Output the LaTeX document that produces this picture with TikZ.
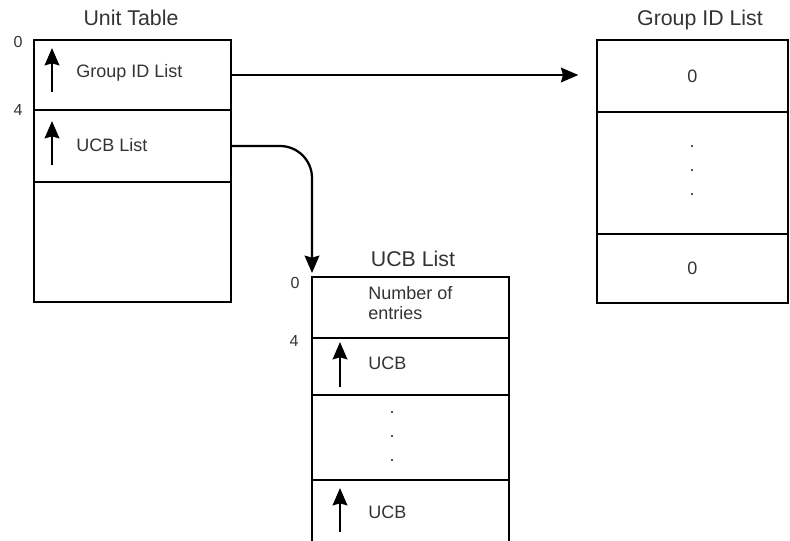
\documentclass[tikz,border=0pt]{standalone}
\usepackage{fontspec}
\setmainfont{Liberation Sans}
\usetikzlibrary{arrows.meta,positioning}

\begin{document}
\begin{tikzpicture}[x=0.75pt,y=-0.75pt,
    cell/.style={draw,line width=1.7pt,anchor=north west,inner sep=0pt,outer sep=0pt},
    ptr/.style={line width=1.7pt,-{Stealth[length=13pt,width=11pt,inset=1.5pt]}},
    lbl/.style={font=\fontsize{13.5}{15.5}\selectfont,text=black!80,inner sep=0pt},
    ttl/.style={font=\fontsize{16}{18}\selectfont,text=black!80,inner sep=0pt},
    off/.style={font=\fontsize{12}{14}\selectfont,text=black!80,inner sep=0pt}]
  \useasboundingbox (0,0) rectangle (790,540);
  \clip (0,0) rectangle (790,540);
  % unit table
  \node[ttl] (utt) at (131,18) {Unit Table};
  \node[cell,minimum width=147.75pt,minimum height=52.5pt] (ut1) at (34,40) {};
  \node[cell,minimum width=147.75pt,minimum height=54pt] (ut2) at (ut1.south west) {};
  \node[cell,minimum width=147.75pt,minimum height=90pt] (ut3) at (ut2.south west) {};
  \node[off] at (18,42) {0};
  \node[off] at (18,110) {4};
  \draw[ptr] (52,92)--(52,48);
  \node[lbl,anchor=west] at (76,73) {Group ID List};
  \draw[ptr] (52,165)--(52,121);
  \node[lbl,anchor=west] at (76,145) {UCB List};
  % group id list
  \node[ttl] (glt) at (700,20) {Group ID List};
  \node[cell,minimum width=143pt,minimum height=54pt] (gl1) at (597,40) {};
  \node[cell,minimum width=143pt,minimum height=91.5pt] (gl2) at (gl1.south west) {};
  \node[cell,minimum width=143pt,minimum height=51.75pt] (gl3) at (gl2.south west) {};
  \node[lbl] at (gl1) {0};
  \foreach \y in {147,171,195}{\node[lbl] at (692,\y) {.};}
  \node[lbl] at (gl3) {0};
  % ucb list
  \node[ttl] (ult) at (413,259) {UCB List};
  \node[cell,minimum width=147.75pt,minimum height=45.75pt] (ul1) at (312,277) {};
  \node[cell,minimum width=147.75pt,minimum height=42.75pt] (ul2) at (ul1.south west) {};
  \node[cell,minimum width=147.75pt,minimum height=63.75pt] (ul3) at (ul2.south west) {};
  \node[cell,minimum width=147.75pt,minimum height=60pt] (ul4) at (ul3.south west) {};
  \node[off] at (295,283) {0};
  \node[off] at (294,341) {4};
  \node[lbl,anchor=north west,align=left] at (368,286) {Number of\\entries};
  \draw[ptr] (340,387)--(340,342);
  \node[lbl,anchor=west] at (368,363) {UCB};
  \foreach \y in {413,437,461}{\node[lbl] at (392,\y) {.};}
  \draw[ptr] (340,532)--(340,488);
  \node[lbl,anchor=west] at (368,512) {UCB};
  % pointers
  \draw[ptr] (ut1.east) -- (ut1.east -| gl1.west) [shorten >=14pt];
  \draw[ptr,rounded corners=24pt,shorten >=3pt] (ut2.east) -| (ul1.north west);
\end{tikzpicture}
\end{document}
